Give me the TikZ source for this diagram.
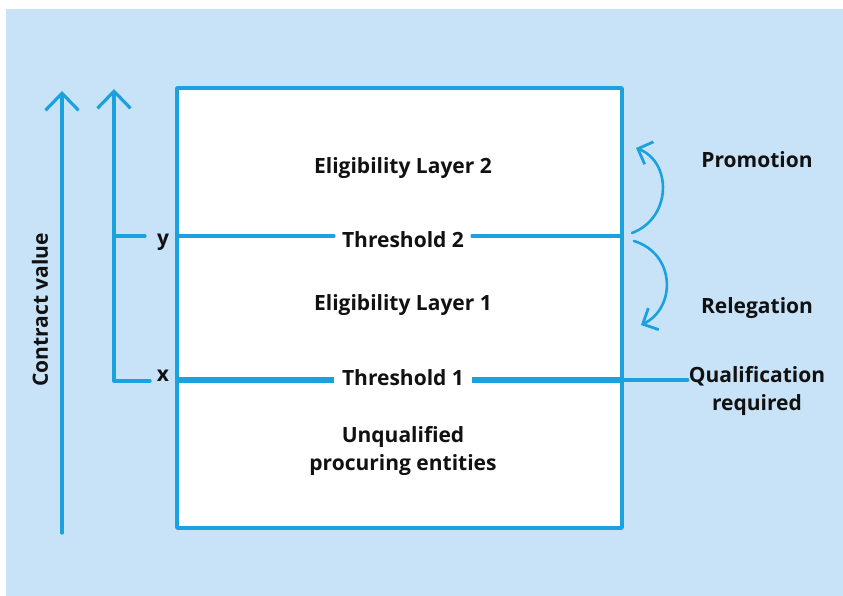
\documentclass[tikz,border=0pt]{standalone}
\usepackage{fontspec}
\setmainfont{Open Sans}
\usetikzlibrary{arrows.meta,positioning}
\definecolor{penblue}{HTML}{1BA1DE}
\definecolor{paperblue}{HTML}{C8E3F7}
\definecolor{inkblack}{HTML}{111111}

\tikzset{
  pen/.style={draw=penblue, line width=3.4pt, line cap=round, line join=round},
  thick pen/.style={pen, line width=5.5pt, line cap=butt},
  label text/.style={font=\fontsize{21}{28.5}\selectfont\bfseries, text=inkblack, inner sep=1pt},
  gap text/.style={label text, fill=white, inner xsep=8pt, inner ysep=2pt},
  barb/.style={-{Straight Barb[length=17pt,width=33pt,line width=3.2pt]}},
  small barb/.style={-{Straight Barb[length=12pt,width=24pt,line width=2.8pt]}}
}

\begin{document}
\begin{tikzpicture}[x=1pt,y=-1pt]
      \useasboundingbox (0,0) rectangle (843,596);
      \fill[paperblue] (6,9) rectangle (843,596);

      \node (box) [pen, fill=white, minimum width=445pt, minimum height=440pt,
                   inner sep=0pt] at (399.5,308) {};
      \coordinate (t2w) at (177,236);
      \coordinate (t2e) at (622,236);
      \coordinate (t1w) at (177,380);
      \coordinate (t1e) at (622,380);

      \node (lay2) [label text] at (403,168)          {Eligibility Layer 2};
      \node (lay1) [label text] at (403,305)          {Eligibility Layer 1};
      \node (unq)  [label text, align=center] at (403,451)
                                                      {Unqualified\\procuring entities};
      \node (thr2) [gap text]   at (403,240)          {Threshold 2};
      \node (thr1) [gap text]   at (403,378)          {Threshold 1};

      \path[pen]       (t2w) edge (thr2.west |- t2w)
                       (thr2.east |- t2e) edge (t2e);
      \path[thick pen] (t1w) edge (thr1.west |- t1w)
                       (thr1.east |- t1e) edge (t1e);

      % value axis
      \coordinate (cvbot) at (62,533);
      \coordinate (cvtop) at (62,91);
      \draw[pen, barb] (cvbot) -- (cvtop);
      \node (cv) [label text, rotate=90] at (40,310)  {Contract value};

      % thresholds axis
      \coordinate (xybot) at (114,381);
      \coordinate (xytop) at (114,89);
      \coordinate (ytick) at (145,236);
      \coordinate (xtick) at (150,381);
      \draw[pen, barb] (xybot) -- (xytop);
      \draw[pen] (xybot |- ytick) -- (ytick);
      \draw[pen] (xybot) -- (xtick);
      \node (ylab) [label text] at (163,242)          {y};
      \node (xlab) [label text] at (163,376)          {x};

      % moves between layers
      \node (prom) [label text] at (757,160)          {Promotion};
      \node (rel)  [label text] at (757,308)          {Relegation};
      \node (qual) [label text, align=center, anchor=north] at (757,365)
                                                      {Qualification\\required};
      \coordinate (pstart) at (632,233);
      \coordinate (pend)   at (636,148);
      \coordinate (rstart) at (634,241);
      \coordinate (rend)   at (641,325);
      \draw[pen, line width=2.6pt, small barb]
            (pstart) .. controls (672,218) and (672,162) .. (pend);
      \draw[pen, line width=2.6pt, small barb]
            (rstart) .. controls (676,254) and (676,308) .. (rend);
      \draw[pen] (t1e) -- (qual.west |- t1e);
\end{tikzpicture}
\end{document}
